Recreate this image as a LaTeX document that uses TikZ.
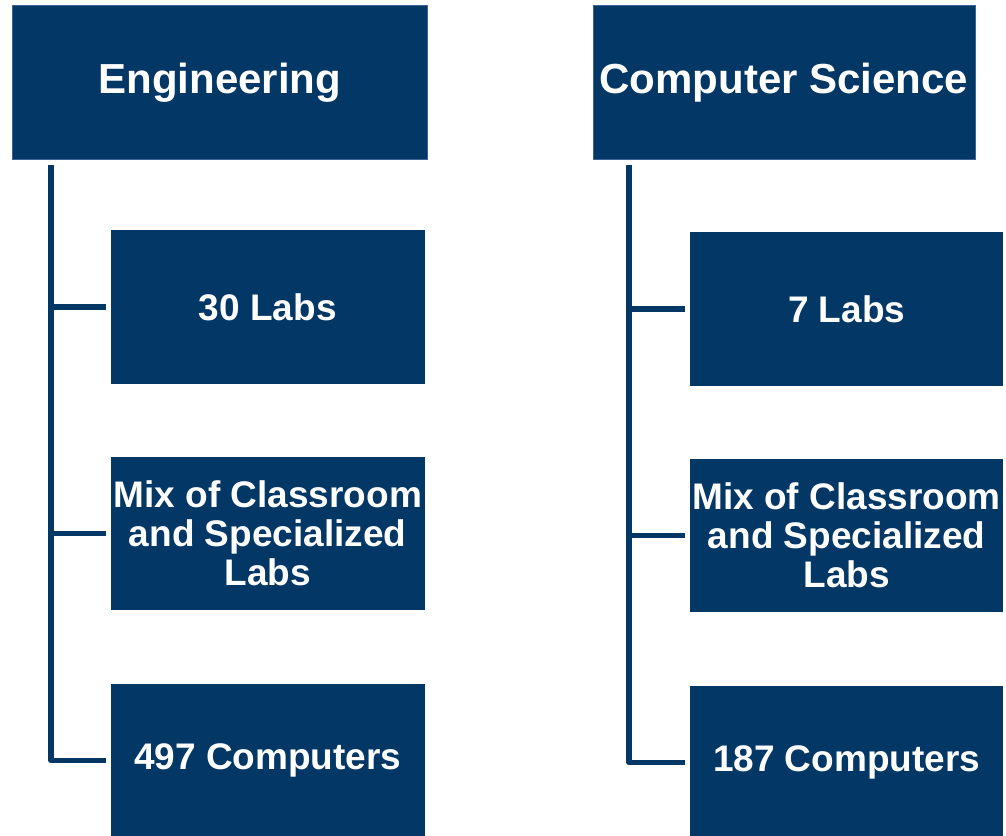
\documentclass[tikz,border=0pt]{standalone}
\usepackage{fontspec}
\setmainfont{Liberation Sans}
\definecolor{navy}{RGB}{3,55,102}
\definecolor{navyedge}{RGB}{60,100,150}
\begin{document}
\begin{tikzpicture}[x=1pt,y=-1pt,
  head/.style={fill=navy, draw=navyedge, line width=0.8pt, text=white, inner sep=0pt, align=center,
    font=\fontsize{42}{50}\selectfont\bfseries},
  item/.style={fill=navy, draw=none, text=white, inner sep=0pt, align=center,
    minimum width=313.5pt, minimum height=153.5pt,
    font=\fontsize{37}{39}\selectfont\bfseries},
  conn/.style={draw=navy, line width=5.5pt, line join=round, shorten >=5pt}]
\useasboundingbox (0,0) rectangle (1006,835);
\clip (0,0) rectangle (1006,835);
% headers
\node[head, minimum width=415.7pt, minimum height=153.8pt] (eng) at (219.85,82.4) {Engineering};
\node[head, minimum width=382pt, minimum height=153.8pt] (cs) at (784,82.4) {Computer Science};
% left items
\node[item] (e1) at (267.75,307) {30 Labs};
\node[item] (e2) at (267.75,533.3) {Mix of Classroom\\and Specialized\\Labs};
\node[item] (e3) at (267.75,760.5) {497 Computers};
% right items
\node[item] (c1) at (846.65,308.9) {7 Labs};
\node[item] (c2) at (846.65,535.5) {Mix of Classroom\\and Specialized\\Labs};
\node[item] (c3) at (846.65,762.5) {187 Computers};
% connectors
\coordinate (et) at (51,164.5);
\coordinate (ct) at (629,165);
\draw[conn] (et) |- (e3.west);
\draw[conn] (et |- e1.west) -- (e1.west);
\draw[conn] (et |- e2.west) -- (e2.west);
\draw[conn] (ct) |- (c3.west);
\draw[conn] (ct |- c1.west) -- (c1.west);
\draw[conn] (ct |- c2.west) -- (c2.west);
\end{tikzpicture}
\end{document}
